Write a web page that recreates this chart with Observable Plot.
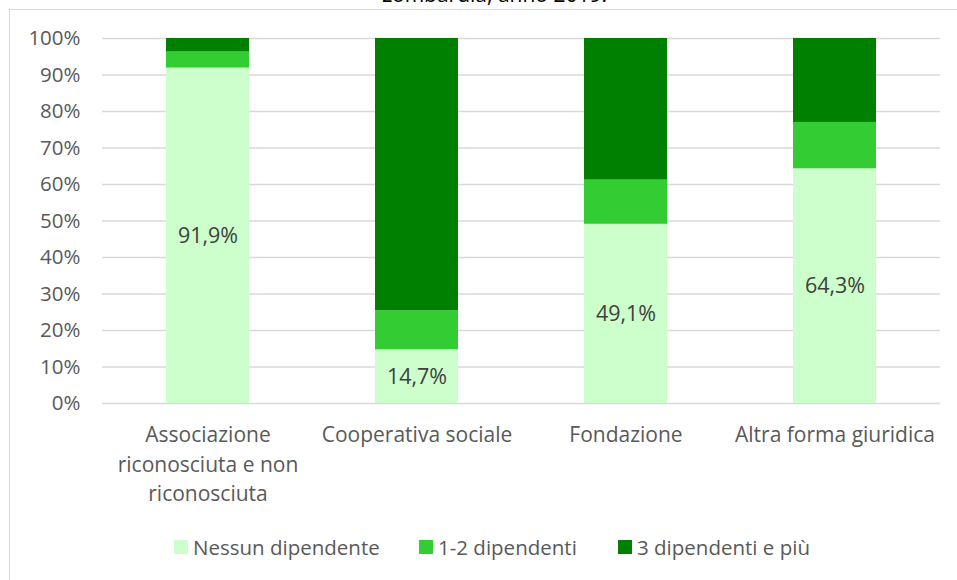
<!DOCTYPE html>
<html>
<head>
<meta charset="utf-8">
<script src="https://cdn.jsdelivr.net/npm/d3@7"></script>
<script src="https://cdn.jsdelivr.net/npm/@observablehq/plot@0.6"></script>
<style>
  html, body { margin: 0; padding: 0; background: #fff; }
  #wrap { position: relative; width: 957px; height: 580px; overflow: hidden; background: #fff; font-family: "Open Sans", sans-serif; }
  #frame { position: absolute; left: 9px; top: 9px; width: 1100px; height: 1000px; border: 1px solid #d9d9d9; box-sizing: border-box; }
  #title { position: absolute; left: 0; top: -20px; width: 988px; text-align: center; font-size: 21px; color: #000; white-space: nowrap; }
  #chart { position: absolute; left: 0; top: 0; }
  #legend { position: absolute; top: 532px; left: 0; width: 957px; height: 30px; font-size: 20.5px; color: #595959; }
  .item { position: absolute; top: 0; display: flex; align-items: center; height: 30px; white-space: nowrap; }
  .sw { width: 14px; height: 14px; margin-right: 5px; display: inline-block; }
</style>
</head>
<body>
<div id="wrap">
  <div id="frame"></div>
  <div id="title">Lombardia, anno 2019.</div>
  <div id="chart"></div>
  <div id="legend"></div>
</div>
<script>
const categories = ["Associazione riconosciuta e non riconosciuta", "Cooperativa sociale", "Fondazione", "Altra forma giuridica"];
const xTickLabels = ["Associazione\nriconosciuta e non\nriconosciuta", "Cooperativa sociale", "Fondazione", "Altra forma giuridica"];
const seriesNames = ["Nessun dipendente", "1-2 dipendenti", "3 dipendenti e più"];
const seriesColors = ["#CCFFCC", "#33CC33", "#008000"];
const nessun = [91.9, 14.7, 49.1, 64.3];
const unoDue = [4.4, 10.7, 12.1, 12.7];
const treEPiu = [3.7, 74.6, 38.8, 23.0];
const yTicks = [0, 10, 20, 30, 40, 50, 60, 70, 80, 90, 100];

const seriesValues = [nessun, unoDue, treEPiu];
const rows = [];
seriesNames.forEach((s, si) => {
  categories.forEach((c, ci) => rows.push({category: c, series: s, value: seriesValues[si][ci]}));
});
const labelRows = categories.map((c, ci) => ({category: c, value: nessun[ci], label: nessun[ci].toFixed(1).replace(".", ",") + "%"}));

const plot = Plot.plot({
  width: 957,
  height: 520,
  marginLeft: 102,
  marginRight: 17,
  marginTop: 38,
  marginBottom: 117,
  style: "font-family: 'Open Sans', sans-serif; font-size: 21px; background: transparent; overflow: visible;",
  x: {domain: categories, paddingInner: 0.602, paddingOuter: 0.301, label: null},
  y: {domain: [0, 100], label: null},
  color: {domain: seriesNames, range: seriesColors},
  marks: [
    Plot.ruleY(yTicks, {stroke: "#d9d9d9", strokeWidth: 1.4}),
    Plot.barY(rows, {x: "category", y: "value", fill: "series", order: seriesNames}),
    Plot.text(labelRows, {x: "category", y: d => d.value / 2, text: "label", fill: "#404040", fontSize: 21.5}),
    Plot.axisY({ticks: yTicks, tickFormat: d => d + "%", tickSize: 0, tickPadding: 22, fill: "#595959", fontSize: 20.5, label: null}),
    Plot.axisX({tickSize: 0, tickPadding: 18, tickFormat: d => xTickLabels[categories.indexOf(d)], fill: "#595959", fontSize: 21, lineHeight: 1.4, label: null})
  ]
});
document.getElementById("chart").appendChild(plot);

const legendX = [174, 419, 618];
const legend = document.getElementById("legend");
seriesNames.forEach((s, i) => {
  const item = document.createElement("div");
  item.className = "item";
  item.style.left = legendX[i] + "px";
  const sw = document.createElement("span");
  sw.className = "sw";
  sw.style.background = seriesColors[i];
  item.appendChild(sw);
  item.appendChild(document.createTextNode(s));
  legend.appendChild(item);
});
</script>
</body>
</html>
